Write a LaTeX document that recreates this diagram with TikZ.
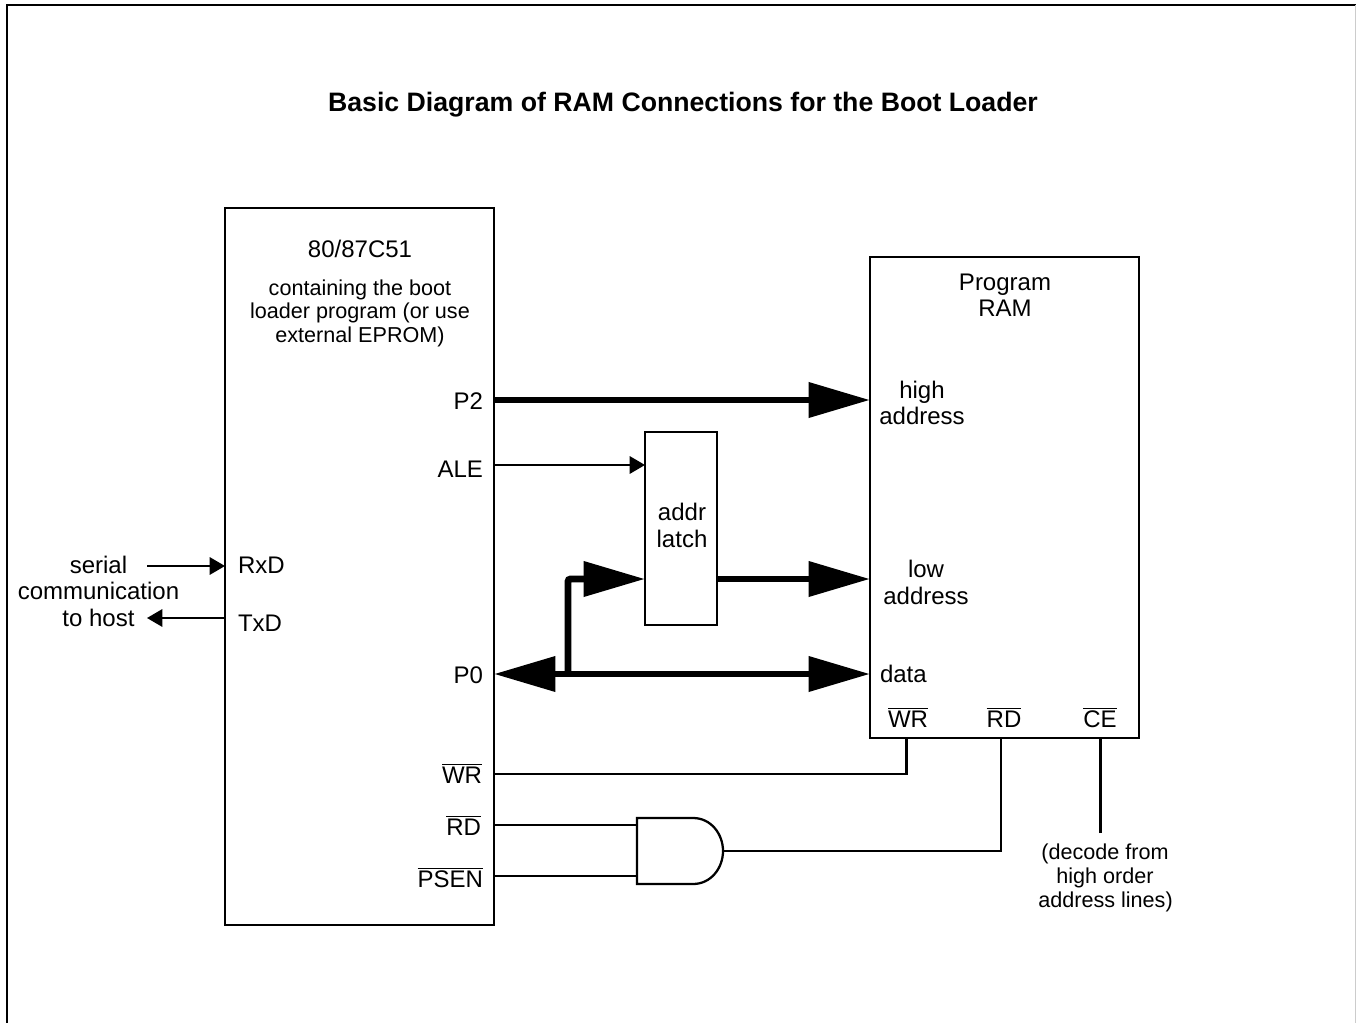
\documentclass[tikz,border=0pt]{standalone}
\usepackage{fontspec}
\setmainfont{Liberation Sans}
\usetikzlibrary{arrows.meta}
\newcommand{\ovl}[1]{\leavevmode\vbox{\hrule height 1.1pt \kern 0.9pt \hbox{#1}}}
\tikzset{
  lab/.style={anchor=base,inner sep=0pt,outer sep=0pt,font=\fontsize{18}{18}\selectfont},
  labr/.style={lab,anchor=base east},
  labl/.style={lab,anchor=base west},
  sm/.style={lab,font=\fontsize{16.2}{16.2}\selectfont},
  block/.style={draw=black,line width=1.7pt,fill=white,inner sep=0pt,outer sep=0pt},
  wire/.style={draw=black,line width=1.7pt},
  smallarrow/.style={wire,-{Triangle[length=11.5pt,width=13pt]}},
  bus/.style={draw=black,line width=5.2pt,-{Triangle[length=46pt,width=25.5pt]}},
  bigtip/.style={{Triangle[length=46pt,width=25.5pt]}-{Triangle[length=46pt,width=25.5pt]}},
}
\begin{document}
\begin{tikzpicture}[x=0.75pt,y=-0.75pt]
\useasboundingbox (0,0) rectangle (1356,1023);
% outer frame
\draw[line width=1.9pt,line cap=butt] (7,1023) -- (7,5) -- (1356,5);
\draw[line width=0.7pt,black!20] (1355.5,5) -- (1355.5,1023);
% title
\node[lab,font=\fontsize{20}{20}\bfseries\selectfont] (title) at (683,111.5) {Basic Diagram of RAM Connections for the Boot Loader};
% blocks
\node[block,minimum width=201.75pt,minimum height=537.75pt] (mcu) at (359.5,566.5) {};
\node[block,minimum width=201.75pt,minimum height=360.75pt] (ram) at (1004.5,497.5) {};
\node[block,minimum width=54pt,minimum height=144.75pt] (latch) at (681,528.5) {};
\node[inner sep=0pt,outer sep=0pt,minimum width=64.5pt,minimum height=49.5pt] (gate) at (680,851) {};
% and gate outline
\draw[line width=1.7pt,line join=miter] (gate.north west) -- (693,818) .. controls (711,818) and (723,834) .. (723,851) .. controls (723,868) and (711,884) .. (693,884) -- (gate.south west) -- cycle;
% mcu text
\node[lab] (mcuname) at (360,258) {80/87C51};
\node[sm] (mcu1) at (360,296) {containing the boot};
\node[sm] (mcu2) at (360,319) {loader program (or use};
\node[sm] (mcu3) at (360,343) {external EPROM)};
\node[labr] (lp2) at (483,410) {P2};
\node[labr] (lale) at (483,477) {ALE};
\node[labl] (lrxd) at (238,573) {RxD};
\node[labl] (ltxd) at (238,631) {TxD};
\node[labr] (lp0) at (483,683) {P0};
\node[labr] (lwr) at (482,783) {\ovl{WR}};
\node[labr] (lrd) at (481,835) {\ovl{RD}};
\node[labr] (lpsen) at (483,887) {\ovl{PSEN}};
% ram text
\node[lab] (ram1) at (1005,291) {Program};
\node[lab] (ram2) at (1005,317) {RAM};
\node[lab] (hi1) at (922,398) {high};
\node[lab] (hi2) at (922,424) {address};
\node[lab] (lo1) at (926,577) {low};
\node[lab] (lo2) at (926,604) {address};
\node[labl] (ldata) at (880,682) {data};
\node[lab] (rwr) at (908,727) {\ovl{WR}};
\node[lab] (rrd) at (1004,727) {\ovl{RD}};
\node[lab] (rce) at (1100,727) {\ovl{CE}};
% latch text
\node[lab] (la1) at (682,520) {addr};
\node[lab] (la2) at (682,547) {latch};
% serial text
\node[lab] (s1) at (98.5,573) {serial};
\node[lab] (s2) at (98.5,599) {communication};
\node[lab] (s3) at (98.5,626) {to host};
% decode text
\node[sm] (d1) at (1105,859) {(decode from};
\node[sm] (d2) at (1105,883) {high order};
\node[sm] (d3) at (1105.5,907) {address lines)};
% free ends
\coordinate (rxfree) at (147,566);
\coordinate (txfree) at (147,618);
\coordinate (cefree) at (1100.5,833);
\coordinate (busjoin) at (568,674);
% connectors
\draw[smallarrow] (rxfree) -- (mcu.west |- rxfree);
\draw[smallarrow] (mcu.west |- txfree) -- (txfree);
\draw[smallarrow] (mcu.east |- 0,465) -- (latch.west |- 0,465);
\draw[bus] (mcu.east |- 0,400) -- (ram.west |- 0,400);
\draw[bus] (latch.east |- 0,579) -- (ram.west |- 0,579);
\draw[bus,bigtip] (mcu.east |- 0,674) -- (ram.west |- 0,674);
\draw[bus,rounded corners=2pt] (busjoin) |- (latch.west |- 0,579);
\draw[wire,line join=miter] (mcu.east |- 0,774) -| (906.5,738);
\draw[wire] (mcu.east |- 0,825) -- (gate.west |- 0,825);
\draw[wire] (mcu.east |- 0,876) -- (gate.west |- 0,876);
\draw[wire] (723,851) -| (1001,738);
\draw[wire] (cefree) -- (cefree |- ram.south);
\end{tikzpicture}
\end{document}
